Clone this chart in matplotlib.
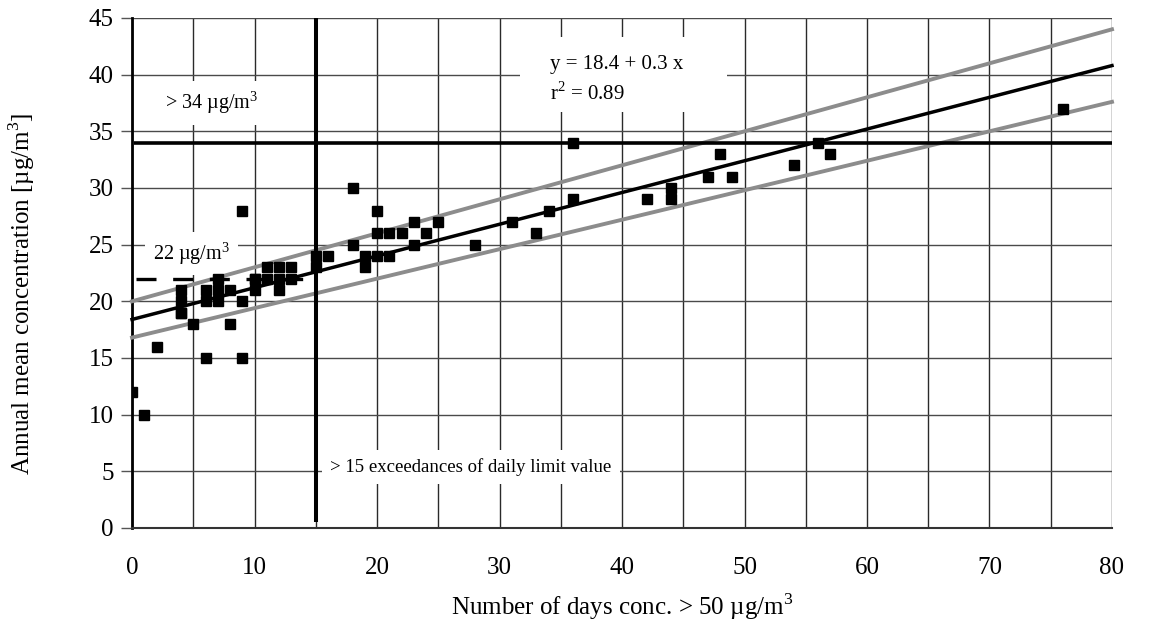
import numpy as np
import matplotlib
matplotlib.use("Agg")
import matplotlib.pyplot as plt
from matplotlib.ticker import MultipleLocator
from matplotlib.patches import Rectangle

plt.rcParams['font.family'] = ['Liberation Serif', 'DejaVu Serif']
plt.rcParams['mathtext.fontset'] = 'custom'
plt.rcParams['mathtext.rm'] = 'Liberation Serif'

# days with conc. > 50 ug/m3 vs annual mean
days = [0, 1, 2, 4, 4, 4, 4, 5, 6, 6, 6, 7, 7, 7, 8, 8, 9, 9, 9,
        10, 10, 10, 11, 11, 12, 12, 12, 13, 13, 15, 15, 16,
        18, 18, 19, 19, 20, 20, 20, 21, 21, 22, 23, 23, 24, 25,
        28, 31, 33, 34, 36, 36, 42, 44, 44, 47, 48, 49, 54, 56, 57, 76]
annual = [12, 10, 16, 21, 20, 19, 19, 18, 15, 20, 21, 22, 21, 20, 21, 18, 28, 20, 15,
          22, 21, 22, 23, 22, 23, 22, 21, 23, 22, 24, 23, 24,
          30, 25, 24, 23, 28, 26, 24, 26, 24, 26, 27, 25, 26, 27,
          25, 27, 26, 28, 34, 29, 29, 30, 29, 31, 33, 31, 32, 34, 33, 37]

# regression line and its band (intercept, slope)
fit = (18.4, 0.28)
upper = (20.0, 0.30)
lower = (16.8, 0.26)

limit_annual = 34
limit_days = 15
equiv_annual = 22

fig = plt.figure(figsize=(11.54, 6.29), dpi=100)
ax = fig.add_axes([0.1144, 0.1606, 0.8492, 0.8108])

ax.set_xlim(0, 80)
ax.set_ylim(0, 45)
ax.xaxis.set_major_locator(MultipleLocator(10))
ax.xaxis.set_minor_locator(MultipleLocator(5))
ax.yaxis.set_major_locator(MultipleLocator(5))

ax.grid(which='both', axis='x', color='#2a2a2a', linewidth=1.0, zorder=0)
ax.grid(which='major', axis='y', color='#4a4a4a', linewidth=1.0, zorder=0)
ax.set_axisbelow(True)

for s in ['top', 'right']:
    ax.spines[s].set_visible(False)
ax.spines['left'].set_linewidth(2.0)
ax.spines['bottom'].set_linewidth(1.5)
ax.spines['bottom'].set_color('#333333')

ax.tick_params(axis='x', which='both', length=0, pad=21, labelsize=18)
ax.tick_params(axis='y', length=8, width=1, pad=5, labelsize=18, color='#555555')

xs = np.array(ax.get_xlim())
ax.plot(xs, upper[0] + upper[1] * xs, color='#8c8c8c', lw=2.8, zorder=4, clip_on=False)
ax.plot(xs, lower[0] + lower[1] * xs, color='#8c8c8c', lw=2.8, zorder=4, clip_on=False)
ax.plot(xs, fit[0] + fit[1] * xs, color='black', lw=2.5, zorder=5, clip_on=False)

ax.hlines(limit_annual, 0.2, 80, color='black', lw=2.6, zorder=5)
ax.vlines(limit_days, 0.5, 45, color='black', lw=2.9, zorder=5)
ax.hlines(equiv_annual, 0.3, limit_days, color='black', lw=2.4, zorder=5,
          linestyles=(0, (6, 5)))

ax.plot(days, annual, linestyle='none', marker='s', markersize=6.8,
        color='black', markeredgecolor='black', zorder=6)

box = dict(facecolor='white', edgecolor='none', pad=6)
ax.text(2.7, 37.5, r'> 34 µg/m$^{3}$', fontsize=14.5, va='center', ha='left',
        bbox=box, zorder=3)
ax.text(1.7, 24.2, r'22 µg/m$^{3}$', fontsize=14.5, va='center', ha='left',
        bbox=box, zorder=3)
# white panel behind the regression equation
ax.add_patch(Rectangle((31.7, 36.7), 16.9, 6.6, facecolor='white',
                       edgecolor='none', zorder=2))
ax.text(34.1, 39.55, 'y = 18.4 + 0.3 x\n' + r'r$^{2}$ = 0.89', fontsize=15,
        va='center', ha='left', linespacing=1.45, zorder=3)
ax.text(16.2, 5.4, '> 15 exceedances of daily limit value', fontsize=13.5,
        va='center', ha='left', bbox=box, zorder=3)

ax.set_xlabel(r'Number of days conc. > 50 µg/m$^{3}$', fontsize=18)
ax.set_ylabel(r'Annual mean concentration [µg/m$^{3}$]', fontsize=18)
ax.xaxis.set_label_coords(0.5, -0.124)
ax.yaxis.set_label_coords(-0.097, 0.459)

fig.savefig('out.png', dpi=100)
